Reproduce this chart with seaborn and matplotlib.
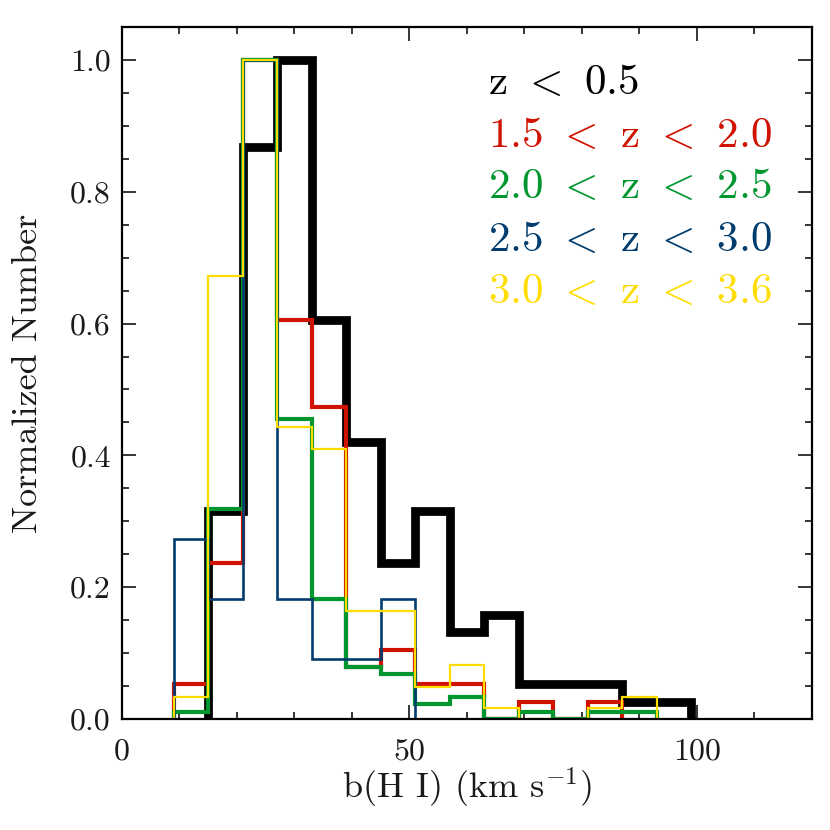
import numpy as np
import pandas as pd
import matplotlib
matplotlib.use("Agg")
import matplotlib.pyplot as plt
from matplotlib.ticker import MultipleLocator
import seaborn as sns

# b(H I) bins, 6 km/s wide
bin_edges = [9, 15, 21, 27, 33, 39, 45, 51, 57, 63, 69, 75, 81, 87, 93, 99]
bin_centers = [12, 18, 24, 30, 36, 42, 48, 54, 60, 66, 72, 78, 84, 90, 96]

# counts per bin for each redshift slice (normalised to the peak when drawn)
counts_z05 = [0, 12, 33, 38, 23, 16, 9, 12, 5, 6, 2, 2, 2, 1, 1]
counts_z15_20 = [2, 9, 38, 23, 18, 3, 4, 2, 2, 0, 1, 0, 1, 0, 0]
counts_z20_25 = [1, 28, 88, 40, 16, 7, 6, 2, 3, 0, 1, 0, 1, 1, 0]
counts_z25_30 = [3, 2, 11, 2, 1, 1, 2, 0, 0, 0, 0, 0, 0, 0, 0]
counts_z30_36 = [2, 41, 61, 27, 25, 10, 10, 3, 5, 1, 0, 0, 1, 2, 0]

labels = ["z $<$ 0.5", "1.5 $<$ z $<$ 2.0", "2.0 $<$ z $<$ 2.5",
          "2.5 $<$ z $<$ 3.0", "3.0 $<$ z $<$ 3.6"]
colors = ["black", "#D01200", "#00962F", "#003D6E", "#FFDD00"]
widths = [6.3, 3.0, 3.0, 1.9, 1.6]

sns.set_theme(style="ticks")
plt.rcParams["font.family"] = ["cmr10", "DejaVu Serif"]
plt.rcParams["mathtext.fontset"] = "cm"
plt.rcParams["axes.formatter.use_mathtext"] = True
plt.rcParams["axes.unicode_minus"] = False
plt.rcParams["text.color"] = "#1a1a1a"
plt.rcParams["axes.labelcolor"] = "#1a1a1a"


def draw_hist(ax, counts, color, lw):
    vals = np.array(counts, dtype=float) / max(counts)
    nz = np.nonzero(vals)[0]
    lo, hi = nz[0], nz[-1] + 1
    edges = [float(e) for e in bin_edges[lo:hi + 1]]
    # tiny empty bins on each side so the outline drops to zero
    edges = [edges[0] - 1e-3] + edges + [edges[-1] + 1e-3]
    df = pd.DataFrame({"b": bin_centers[lo:hi], "w": vals[lo:hi]})
    sns.histplot(data=df, x="b", weights="w", bins=edges,
                 element="step", fill=False, color=color, linewidth=lw,
                 solid_joinstyle="miter", solid_capstyle="butt", ax=ax)


fig = plt.figure(figsize=(8.3, 8.3), dpi=100)
ax = fig.add_axes([0.147, 0.1337, 0.831, 0.8338])

all_counts = [counts_z05, counts_z15_20, counts_z20_25, counts_z25_30, counts_z30_36]
for c, col, lw in zip(all_counts, colors, widths):
    draw_hist(ax, c, col, lw)

ax.set_xlim(0, 120)
ax.set_ylim(0, 1.05)
ax.xaxis.set_major_locator(MultipleLocator(50))
ax.xaxis.set_minor_locator(MultipleLocator(10))
ax.yaxis.set_major_locator(MultipleLocator(0.2))
ax.yaxis.set_minor_locator(MultipleLocator(0.05))
ax.yaxis.set_major_formatter(plt.FuncFormatter(lambda v, p: f"{v:.1f}"))
ax.xaxis.set_major_formatter(plt.FuncFormatter(lambda v, p: f"{v:.0f}"))

ax.tick_params(which="both", direction="in", top=True, right=True,
               width=1.1, color="black", labelcolor="#1a1a1a", labelsize=23)
ax.tick_params(which="major", length=10)
ax.tick_params(which="minor", length=5)
ax.tick_params(axis="x", pad=14)
ax.tick_params(axis="y", pad=8)
for s in ax.spines.values():
    s.set_linewidth(1.6)
    s.set_color("black")

ax.set_xlabel("b(H I) (km s$^{-1}$)", fontsize=26)
ax.set_ylabel("Normalized Number", fontsize=26)
ax.xaxis.set_label_coords(0.5, -0.068)
ax.yaxis.set_label_coords(-0.113, 0.5)

text_y = [0.903, 0.827, 0.753, 0.677, 0.601]
for lab, col, ty in zip(labels, colors, text_y):
    ax.text(0.53, ty, lab, color=col, fontsize=31, transform=ax.transAxes,
            ha="left", va="baseline")

fig.savefig("out.png", dpi=100)
